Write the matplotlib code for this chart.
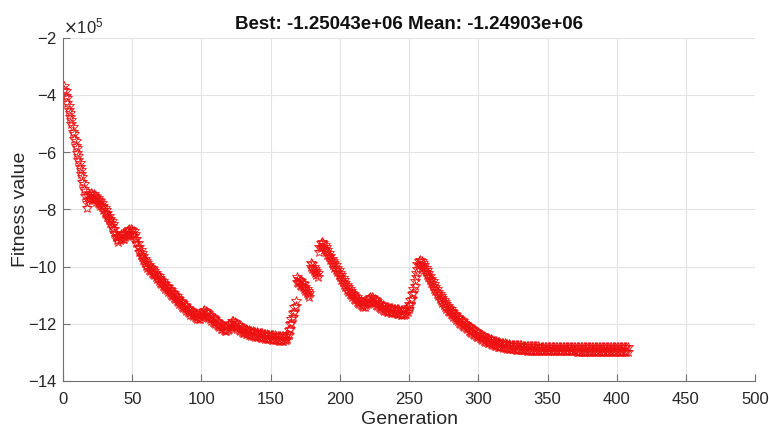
import matplotlib.pyplot as plt
from matplotlib.ticker import MultipleLocator

# best / mean fitness per generation, in units of 1e5
best_e5 = [
    -3.83, -4.03, -4.28, -4.53, -4.78, -5.03, -5.28, -5.53, -5.78, -6.03,
    -6.28, -6.53, -6.78, -7.03, -7.28, -7.53, -7.95, -7.68, -7.63, -7.58,
    -7.63, -7.63, -7.68, -7.73, -7.78, -7.83, -7.88, -7.93, -8.03, -8.13,
    -8.18, -8.28, -8.38, -8.48, -8.58, -8.68, -8.83, -8.98, -9.08, -9.13,
    -9.08, -9.03, -9.03, -9.03, -8.98, -8.93, -8.88, -8.83, -8.83, -8.88,
    -8.93, -9.03, -9.18, -9.33, -9.48, -9.58, -9.68, -9.78, -9.88, -9.98,
    -10.05, -10.11, -10.16, -10.21, -10.26, -10.31, -10.38, -10.44, -10.50, -10.56,
    -10.62, -10.68, -10.73, -10.78, -10.83, -10.88, -10.93, -10.98, -11.04, -11.10,
    -11.15, -11.20, -11.25, -11.30, -11.35, -11.40, -11.45, -11.50, -11.55, -11.60,
    -11.64, -11.68, -11.71, -11.74, -11.77, -11.80, -11.83, -11.85, -11.84, -11.78,
    -11.72, -11.68, -11.70, -11.75, -11.80, -11.85, -11.89, -11.93, -11.97, -12.01,
    -12.05, -12.09, -12.13, -12.17, -12.20, -12.23, -12.25, -12.26, -12.23, -12.17,
    -12.12, -12.08, -12.08, -12.11, -12.15, -12.19, -12.22, -12.25, -12.28, -12.31,
    -12.33, -12.35, -12.37, -12.39, -12.40, -12.42, -12.43, -12.44, -12.45, -12.46,
    -12.47, -12.48, -12.49, -12.50, -12.51, -12.52, -12.53, -12.54, -12.54, -12.55,
    -12.56, -12.57, -12.57, -12.58, -12.58, -12.59, -12.59, -12.60, -12.60, -12.58,
    -12.58, -12.53, -12.38, -12.18, -11.98, -11.78, -11.58, -11.38, -10.53, -10.58,
    -10.63, -10.68, -10.73, -10.78, -10.86, -10.93, -11.00, -11.08, -10.03, -10.08,
    -10.16, -10.23, -10.30, -10.38, -9.48, -9.35, -9.30, -9.33, -9.40, -9.48,
    -9.58, -9.68, -9.78, -9.88, -9.96, -10.04, -10.12, -10.20, -10.28, -10.37,
    -10.46, -10.55, -10.64, -10.73, -10.81, -10.88, -10.95, -11.01, -11.07, -11.13,
    -11.18, -11.23, -11.28, -11.32, -11.36, -11.39, -11.41, -11.40, -11.36, -11.31,
    -11.27, -11.24, -11.23, -11.25, -11.29, -11.34, -11.38, -11.42, -11.46, -11.49,
    -11.52, -11.54, -11.56, -11.58, -11.59, -11.60, -11.61, -11.62, -11.63, -11.64,
    -11.65, -11.66, -11.67, -11.68, -11.68, -11.68, -11.67, -11.65, -11.58, -11.48,
    -11.33, -11.13, -10.93, -10.68, -10.38, -10.08, -9.96, -9.93, -9.96, -10.03,
    -10.11, -10.20, -10.29, -10.38, -10.48, -10.58, -10.68, -10.78, -10.87, -10.96,
    -11.04, -11.12, -11.20, -11.27, -11.34, -11.41, -11.48, -11.54, -11.60, -11.66,
    -11.71, -11.76, -11.81, -11.86, -11.91, -11.96, -12.00, -12.04, -12.08, -12.12,
    -12.16, -12.20, -12.24, -12.28, -12.32, -12.36, -12.39, -12.42, -12.45, -12.48,
    -12.51, -12.54, -12.57, -12.60, -12.63, -12.65, -12.67, -12.69, -12.71, -12.73,
    -12.75, -12.77, -12.78, -12.80, -12.81, -12.82, -12.83, -12.84, -12.85, -12.86,
    -12.87, -12.88, -12.89, -12.89, -12.90, -12.90, -12.91, -12.91, -12.92, -12.92,
    -12.92, -12.93, -12.93, -12.93, -12.94, -12.94, -12.94, -12.94, -12.95, -12.95,
    -12.95, -12.95, -12.95, -12.96, -12.96, -12.96, -12.96, -12.96, -12.96, -12.97,
    -12.97, -12.97, -12.97, -12.97, -12.97, -12.97, -12.97, -12.97, -12.97, -12.97,
    -12.97, -12.97, -12.97, -12.97, -12.97, -12.97, -12.97, -12.97, -12.97, -12.97,
    -12.98, -12.98, -12.98, -12.98, -12.98, -12.98, -12.98, -12.98, -12.98, -12.98,
    -12.98, -12.98, -12.98, -12.98, -12.98, -12.98, -12.98, -12.98, -12.98, -12.98,
    -12.98, -12.98, -12.98, -12.98, -12.98, -12.98, -12.98, -12.98, -12.98, -12.98,
    -12.98, -12.98, -12.98, -12.98, -12.98, -12.98, -12.98, -12.98,
]

mean_e5 = [
    -3.67, -3.87, -4.12, -4.37, -4.62, -4.87, -5.12, -5.37, -5.62, -5.87,
    -6.12, -6.37, -6.62, -6.87, -7.12, -7.37, -7.79, -7.52, -7.47, -7.42,
    -7.47, -7.47, -7.52, -7.57, -7.62, -7.67, -7.72, -7.77, -7.87, -7.97,
    -8.02, -8.12, -8.22, -8.32, -8.42, -8.52, -8.67, -8.82, -8.92, -8.97,
    -8.92, -8.87, -8.87, -8.87, -8.82, -8.77, -8.72, -8.67, -8.67, -8.72,
    -8.77, -8.87, -9.02, -9.17, -9.32, -9.42, -9.52, -9.62, -9.72, -9.82,
    -9.89, -9.95, -10.00, -10.05, -10.10, -10.15, -10.22, -10.28, -10.34, -10.40,
    -10.46, -10.52, -10.57, -10.62, -10.67, -10.72, -10.77, -10.82, -10.88, -10.94,
    -10.99, -11.04, -11.09, -11.14, -11.19, -11.24, -11.29, -11.34, -11.39, -11.44,
    -11.48, -11.52, -11.55, -11.58, -11.61, -11.64, -11.67, -11.69, -11.68, -11.62,
    -11.56, -11.52, -11.54, -11.59, -11.64, -11.69, -11.73, -11.77, -11.81, -11.85,
    -11.89, -11.93, -11.97, -12.01, -12.04, -12.07, -12.09, -12.10, -12.07, -12.01,
    -11.96, -11.92, -11.92, -11.95, -11.99, -12.03, -12.06, -12.09, -12.12, -12.15,
    -12.17, -12.19, -12.21, -12.23, -12.24, -12.26, -12.27, -12.28, -12.29, -12.30,
    -12.31, -12.32, -12.33, -12.34, -12.35, -12.36, -12.37, -12.38, -12.38, -12.39,
    -12.40, -12.41, -12.41, -12.42, -12.42, -12.43, -12.43, -12.44, -12.44, -12.42,
    -12.42, -12.37, -12.22, -12.02, -11.82, -11.62, -11.42, -11.22, -10.37, -10.42,
    -10.47, -10.52, -10.57, -10.62, -10.70, -10.77, -10.84, -10.92, -9.87, -9.92,
    -10.00, -10.07, -10.14, -10.22, -9.32, -9.19, -9.14, -9.17, -9.24, -9.32,
    -9.42, -9.52, -9.62, -9.72, -9.80, -9.88, -9.96, -10.04, -10.12, -10.21,
    -10.30, -10.39, -10.48, -10.57, -10.65, -10.72, -10.79, -10.85, -10.91, -10.97,
    -11.02, -11.07, -11.12, -11.16, -11.20, -11.23, -11.25, -11.24, -11.20, -11.15,
    -11.11, -11.08, -11.07, -11.09, -11.13, -11.18, -11.22, -11.26, -11.30, -11.33,
    -11.36, -11.38, -11.40, -11.42, -11.43, -11.44, -11.45, -11.46, -11.47, -11.48,
    -11.49, -11.50, -11.51, -11.52, -11.52, -11.52, -11.51, -11.49, -11.42, -11.32,
    -11.17, -10.97, -10.77, -10.52, -10.22, -9.92, -9.80, -9.77, -9.80, -9.87,
    -9.95, -10.04, -10.13, -10.22, -10.32, -10.42, -10.52, -10.62, -10.71, -10.80,
    -10.88, -10.96, -11.04, -11.11, -11.18, -11.25, -11.32, -11.38, -11.44, -11.50,
    -11.55, -11.60, -11.65, -11.70, -11.75, -11.80, -11.84, -11.88, -11.92, -11.96,
    -12.00, -12.04, -12.08, -12.12, -12.16, -12.20, -12.23, -12.26, -12.29, -12.32,
    -12.35, -12.38, -12.41, -12.44, -12.47, -12.49, -12.51, -12.53, -12.55, -12.57,
    -12.59, -12.61, -12.62, -12.64, -12.65, -12.66, -12.67, -12.68, -12.69, -12.70,
    -12.71, -12.72, -12.73, -12.73, -12.74, -12.74, -12.75, -12.75, -12.76, -12.76,
    -12.76, -12.77, -12.77, -12.77, -12.78, -12.78, -12.78, -12.78, -12.79, -12.79,
    -12.79, -12.79, -12.79, -12.80, -12.80, -12.80, -12.80, -12.80, -12.80, -12.81,
    -12.81, -12.81, -12.81, -12.81, -12.81, -12.81, -12.81, -12.81, -12.81, -12.81,
    -12.81, -12.81, -12.81, -12.81, -12.81, -12.81, -12.81, -12.81, -12.81, -12.81,
    -12.82, -12.82, -12.82, -12.82, -12.82, -12.82, -12.82, -12.82, -12.82, -12.82,
    -12.82, -12.82, -12.82, -12.82, -12.82, -12.82, -12.82, -12.82, -12.82, -12.82,
    -12.82, -12.82, -12.82, -12.82, -12.82, -12.82, -12.82, -12.82, -12.82, -12.82,
    -12.82, -12.82, -12.82, -12.82, -12.82, -12.82, -12.82, -12.82,
]

generations = list(range(1, len(best_e5) + 1))
title_text = 'Best: -1.25043e+06 Mean: -1.24903e+06'

plt.rcParams['font.family'] = ['Liberation Sans', 'DejaVu Sans']
axis_gray = '#262626'

fig = plt.figure(figsize=(7.69, 4.29), dpi=100)
ax = fig.add_axes([0.082, 0.112, 0.9, 0.8])

ax.plot(generations, [v * 1e5 for v in mean_e5], linestyle='none', marker='*',
        markersize=7.5, markerfacecolor='none', markeredgecolor='#ee1111',
        markeredgewidth=0.6)
ax.plot(generations, [v * 1e5 for v in best_e5], linestyle='none', marker='*',
        markersize=7.5, markerfacecolor='none', markeredgecolor='#ee1111',
        markeredgewidth=0.6)

ax.set_xlim(0, 500)
ax.set_ylim(-14e5, -2e5)
ax.xaxis.set_major_locator(MultipleLocator(50))
ax.yaxis.set_major_locator(MultipleLocator(2e5))
ax.ticklabel_format(axis='y', style='sci', scilimits=(5, 5), useMathText=True)

ax.grid(True, color='#e3e3e3', linewidth=0.8)
ax.set_axisbelow(True)
for side in ['top', 'right']:
    ax.spines[side].set_visible(False)
for side in ['left', 'bottom']:
    ax.spines[side].set_color('#707070')
    ax.spines[side].set_linewidth(0.8)

ax.tick_params(direction='in', length=5, width=0.8, color='#707070',
               labelsize=12, labelcolor=axis_gray)
ax.tick_params(axis='x', pad=8)
ax.tick_params(axis='y', pad=4)
ax.yaxis.get_offset_text().set_fontsize(12)
ax.yaxis.get_offset_text().set_color(axis_gray)

ax.set_title(title_text, fontsize=13.5, fontweight='bold', color='#111111', pad=6)
ax.set_xlabel('Generation', fontsize=14, color=axis_gray, labelpad=3)
ax.set_ylabel('Fitness value', fontsize=14, color=axis_gray, labelpad=-1)

fig.savefig('out.png', dpi=100)
